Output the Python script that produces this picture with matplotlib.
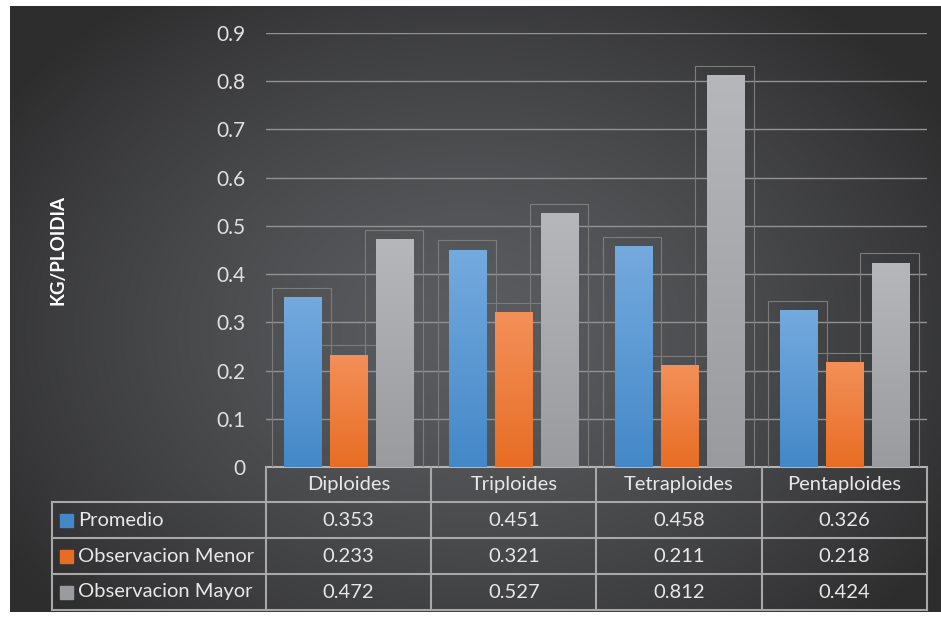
import numpy as np
import matplotlib.pyplot as plt
from matplotlib.colors import LinearSegmentedColormap, to_rgb
from matplotlib.patches import Rectangle

plt.rcParams['font.family'] = ['Lato', 'DejaVu Sans']

categorias = ['Diploides', 'Triploides', 'Tetraploides', 'Pentaploides']
series = ['Promedio', 'Observacion Menor', 'Observacion Mayor']
promedio = [0.353, 0.451, 0.458, 0.326]
obs_menor = [0.233, 0.321, 0.211, 0.218]
obs_mayor = [0.472, 0.527, 0.812, 0.424]
valores = [promedio, obs_menor, obs_mayor]
yticks = [0, 0.1, 0.2, 0.3, 0.4, 0.5, 0.6, 0.7, 0.8, 0.9]

# colores (arriba, abajo) para el degradado de cada serie
colores = [('#74aade', '#4488c8'), ('#f39059', '#e86d24'), ('#b5b7ba', '#999b9e')]

W, H = 941, 617
fig = plt.figure(figsize=(W / 100, H / 100), dpi=100)
fig.patch.set_facecolor('white')

# fondo oscuro con degradado radial
bg = fig.add_axes([0, 0, 1, 1])
bg.set_xlim(0, W)
bg.set_ylim(H, 0)
bg.axis('off')
yy, xx = np.mgrid[6:612, 10:W]
d = np.sqrt(((xx - 470) / 560.0) ** 2 + ((yy - 330) / 420.0) ** 2)
d = np.clip(d, 0, 1)
claro = np.array(to_rgb('#5b5c5f'))
oscuro = np.array(to_rgb('#2d2d2e'))
img = claro * (1 - d[..., None] ** 1.4) + oscuro * d[..., None] ** 1.4
bg.imshow(img, extent=(10, W, 612, 6), aspect='auto', zorder=0)

# ejes principales
x0, x1, ytop, ybase = 266, 927, 33, 467
ax = fig.add_axes([x0 / W, 1 - ybase / H, (x1 - x0) / W, (ybase - ytop) / H])
ax.patch.set_alpha(0)
for s in ax.spines.values():
    s.set_visible(False)

n = len(categorias)
x = np.arange(n)
ancho = 0.224
sep = 0.279

for t in yticks[1:]:
    ax.axhline(t, color='#929292', lw=1.0, zorder=1)

for i, (vals, (c_top, c_bot)) in enumerate(zip(valores, colores)):
    pos = x + (i - 1) * sep
    # cajas tenues alrededor de las barras
    for p, v in zip(pos, vals):
        ax.add_patch(Rectangle((p - ancho / 2 - 0.07, 0), ancho + 0.13, v + 0.019,
                               fill=False, ec='#7c7c7c', lw=0.8, zorder=2))
    barras = ax.bar(pos, vals, width=ancho, color=c_bot, zorder=3)
    cmap = LinearSegmentedColormap.from_list('g%d' % i, [c_bot, c_top])
    grad = np.linspace(0, 1, 100).reshape(-1, 1)
    for b in barras:
        bx, bw, bh = b.get_x(), b.get_width(), b.get_height()
        im = ax.imshow(grad, cmap=cmap, origin='lower', aspect='auto',
                       extent=(bx, bx + bw, 0, bh), zorder=4)
        im.set_clip_path(b)

ax.set_xlim(-0.5, n - 0.5)
ax.set_ylim(0, 0.9)
ax.set_yticks(yticks)
ax.set_yticklabels(['0' if t == 0 else '%.1f' % t for t in yticks])
ax.set_xticks([])
ax.tick_params(axis='y', length=0, pad=15, labelsize=15, labelcolor='#e0e0e0')

bg.text(58, 250, 'KG/PLOIDIA', rotation=90, ha='center', va='center',
        color='white', fontsize=13.5, fontweight='bold', zorder=6)

# tabla de datos
lc = '#a8a8a8'
filas = [467, 502, 538, 574, 610]
cols = [x0 + (x1 - x0) * k / n for k in range(n + 1)]
izq = 52
bg.plot([x0, x1], [filas[0], filas[0]], color='#b5b5b5', lw=1.5, zorder=5)
for fy in filas[1:]:
    bg.plot([izq, x1], [fy, fy], color=lc, lw=1.5, zorder=5)
for cx in cols:
    bg.plot([cx, cx], [filas[0], filas[-1]], color=lc, lw=1.5, zorder=5)
bg.plot([izq, izq], [filas[1], filas[-1]], color=lc, lw=1.5, zorder=5)

fs = 14.5
for j, cat in enumerate(categorias):
    cx = (cols[j] + cols[j + 1]) / 2
    bg.text(cx, (filas[0] + filas[1]) / 2, cat, ha='center', va='center',
            fontsize=fs, color='#e8e8e8', zorder=6)
for i, (nombre, vals, (c_top, c_bot)) in enumerate(zip(series, valores, colores)):
    cy = (filas[i + 1] + filas[i + 2]) / 2
    bg.add_patch(Rectangle((60, cy - 6.5), 13, 13, color=c_bot, zorder=6))
    bg.text(78, cy, nombre, ha='left', va='center', fontsize=fs,
            color='#e8e8e8', zorder=6)
    for j, v in enumerate(vals):
        cx = (cols[j] + cols[j + 1]) / 2
        bg.text(cx, cy, '%.3f' % v, ha='center', va='center', fontsize=fs,
                color='#e8e8e8', zorder=6)

fig.savefig('out.png', dpi=100, facecolor=fig.get_facecolor())
